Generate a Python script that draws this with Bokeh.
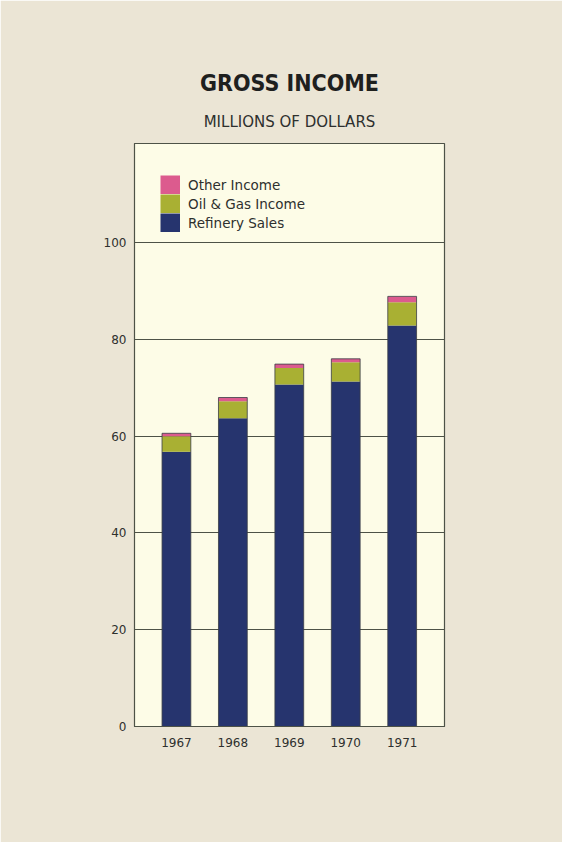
from bokeh.plotting import figure
from bokeh.models import (Range1d, FixedTicker, Legend, LegendItem, Title, ColumnDataSource)
from bokeh.embed import file_html
from bokeh.resources import INLINE

years = [1967, 1968, 1969, 1970, 1971]
year_labels = ["1967", "1968", "1969", "1970", "1971"]
refinery_sales = [56.8, 63.7, 70.7, 71.3, 82.9]
oil_gas_income = [3.2, 3.5, 3.4, 4.0, 4.8]
other_income = [0.6, 0.8, 0.8, 0.7, 1.2]
y_ticks = [0, 20, 40, 60, 80, 100]

series_names = ["Refinery Sales", "Oil & Gas Income", "Other Income"]
colors = ["#26346e", "#a9b033", "#dc5b8e"]

totals = [a + b + c for a, b, c in zip(refinery_sales, oil_gas_income, other_income)]
src = ColumnDataSource(dict(x=years, rs=refinery_sales, og=oil_gas_income, ot=other_income, tot=totals))

FONT = "DejaVu Sans"

p = figure(width=562, height=842, output_backend="svg", toolbar_location=None,
           x_range=Range1d(1966.257, 1971.75), y_range=Range1d(0, 120.5),
           min_border_left=134, min_border_right=118, min_border_top=143, min_border_bottom=116)

p.border_fill_color = "#ebe5d5"
p.background_fill_color = "#fdfce7"
p.outline_line_color = "#4d5247"
p.outline_line_width = 1.2

rs = p.vbar_stack(["rs", "og", "ot"], x="x", width=0.51, source=src, color=colors, line_color=None)
p.vbar(x="x", top="tot", width=0.51, source=src, fill_color=None, line_color="#3a3d45", line_width=0.8)

# legend swatches: single-point (invisible) line renderers, drawn as thick butt-capped bars in the legend
swatches = [p.line(x=years[:1], y=refinery_sales[:1], line_color=c, line_width=19) for c in colors]

p.xgrid.grid_line_color = None
p.ygrid.ticker = FixedTicker(ticks=y_ticks[1:])
p.ygrid.grid_line_color = "#4d5247"
p.ygrid.grid_line_width = 1
p.ygrid.level = "underlay"

p.yaxis.ticker = FixedTicker(ticks=y_ticks)
p.xaxis.ticker = FixedTicker(ticks=years)
p.xaxis.major_label_overrides = {y: l for y, l in zip(years, year_labels)}
for ax in (p.xaxis, p.yaxis):
    ax.major_tick_line_color = None
    ax.minor_tick_line_color = None
    ax.axis_line_color = "#4d5247"
    ax.major_label_text_font = FONT
    ax.major_label_text_font_size = "12px"
    ax.major_label_text_color = "#2e302e"
p.xaxis.major_label_standoff = 5
p.yaxis.major_label_standoff = 2

items = [LegendItem(label=series_names[i], renderers=[swatches[i]]) for i in (2, 1, 0)]
leg = Legend(items=items, location=(26, 494), glyph_width=20, glyph_height=19, spacing=0,
             padding=0, margin=0, label_standoff=8, border_line_color=None,
             background_fill_alpha=0, label_text_font=FONT, label_text_font_size="13.5px",
             label_text_color="#2e302e", label_height=19)
p.add_layout(leg)

p.add_layout(Title(text="MILLIONS OF DOLLARS", align="center", text_font=FONT,
                   text_font_size="15px", text_font_style="normal", text_color="#2e302e",
                   standoff=26), "above")
p.add_layout(Title(text="GROSS INCOME", align="center",
                   text_font="'Liberation Sans Narrow', 'DejaVu Sans Condensed', sans-serif",
                   text_font_style="bold", text_font_size="23px", text_color="#1e201e",
                   standoff=4), "above")

open("out.html", "w").write(file_html(p, INLINE))
